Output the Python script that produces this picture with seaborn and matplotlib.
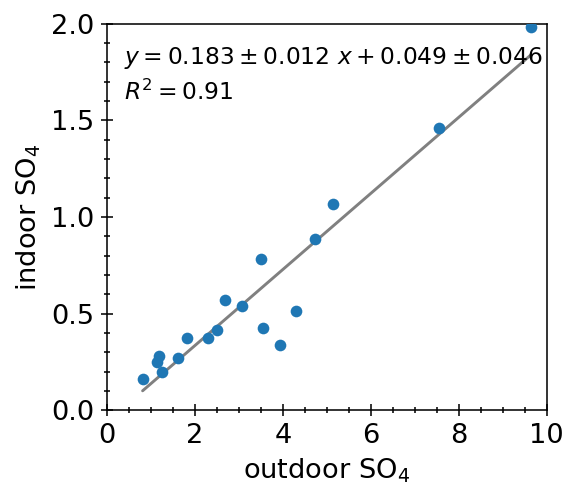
import numpy as np
import pandas as pd
import matplotlib
matplotlib.use("Agg")
import matplotlib.pyplot as plt
import seaborn as sns
from matplotlib.ticker import AutoMinorLocator

outdoor = [0.81, 1.13, 1.18, 1.25, 1.61, 1.82, 2.29, 2.51, 2.68, 3.08,
           3.51, 3.55, 3.94, 4.30, 4.73, 5.13, 7.55, 9.64]
indoor = [0.16, 0.25, 0.28, 0.20, 0.27, 0.375, 0.375, 0.415, 0.57, 0.54,
          0.78, 0.425, 0.34, 0.515, 0.885, 1.065, 1.46, 1.985]
slope, slope_err = 0.183, 0.012
intercept, intercept_err = 0.049, 0.046
r2 = 0.91

sns.set_style("ticks")
plt.rcParams["font.family"] = ["DejaVu Sans"]
plt.rcParams["text.color"] = "black"
plt.rcParams["axes.labelcolor"] = "black"
plt.rcParams["xtick.color"] = "black"
plt.rcParams["ytick.color"] = "black"
plt.rcParams["axes.edgecolor"] = "black"

df = pd.DataFrame({"outdoor": outdoor, "indoor": indoor})
# least-squares line through the data, drawn over the data range
b1, b0 = np.polyfit(outdoor, indoor, 1)
xs = np.array([min(outdoor), max(outdoor)])
fit = pd.DataFrame({"x": xs, "y": b1 * xs + b0})

DPI = 140
fig = plt.figure(figsize=(566 / DPI, 486 / DPI), dpi=DPI)
ax = fig.add_axes([0.189, 0.156, 0.777, 0.795])

sns.scatterplot(data=df, x="outdoor", y="indoor", ax=ax, color="#1f77b4",
                s=36, linewidth=0, zorder=3)
sns.lineplot(data=fit, x="x", y="y", ax=ax, color="grey", linewidth=1.5, zorder=2)

ax.set_xlim(0, 10)
ax.set_ylim(0, 2.0)
ax.set_xticks([0, 2, 4, 6, 8, 10])
ax.set_yticks([0, 0.5, 1.0, 1.5, 2.0])
ax.set_yticklabels(["0.0", "0.5", "1.0", "1.5", "2.0"])
ax.xaxis.set_minor_locator(AutoMinorLocator())
ax.yaxis.set_minor_locator(AutoMinorLocator())
ax.tick_params(which="major", direction="inout", length=6, width=0.8, labelsize=14)
ax.tick_params(which="minor", direction="inout", length=3, width=0.8)
ax.set_xlabel("outdoor SO$_4$", fontsize=14)
ax.set_ylabel("indoor SO$_4$", fontsize=14)
for s in ax.spines.values():
    s.set_color("black")
    s.set_linewidth(0.8)

ax.text(0.038, 0.945,
        f"$y = {slope:.3f} \\pm {slope_err:.3f}\\ x + {intercept:.3f} \\pm {intercept_err:.3f}$\n$R^2 = {r2:.2f}$",
        transform=ax.transAxes, va="top", ha="left", fontsize=12, linespacing=1.45)

fig.savefig("out.png", dpi=DPI)
